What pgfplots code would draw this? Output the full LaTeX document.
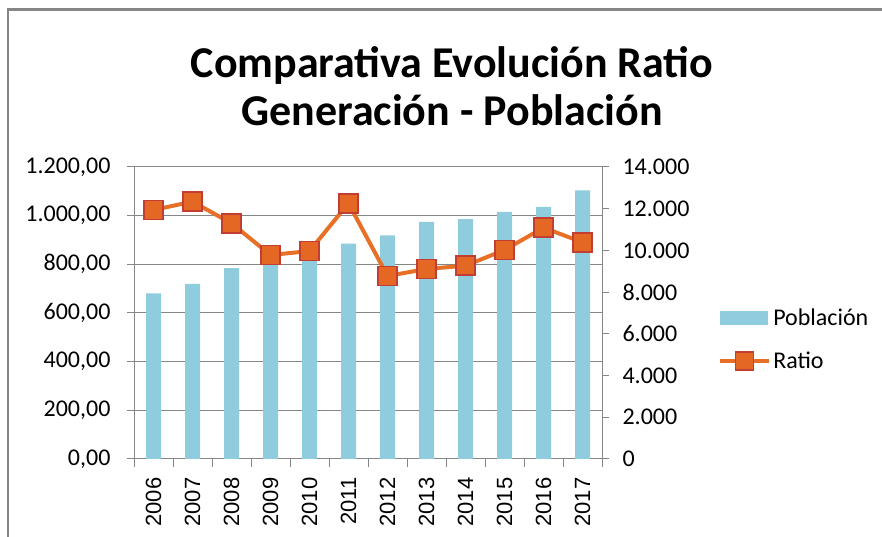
\documentclass[border=0pt]{standalone}
\usepackage{fontspec}
\setmainfont{Carlito}
\newfontfamily\arialf{Liberation Sans}
\usepackage{pgfplots}
\pgfplotsset{compat=1.18}
\definecolor{barc}{RGB}{143,204,221}
\definecolor{linec}{RGB}{232,112,38}
\definecolor{markf}{RGB}{228,104,36}
\definecolor{markd}{RGB}{194,62,52}
\definecolor{axc}{RGB}{134,134,134}

\begin{document}
\begin{tikzpicture}[x=1pt,y=1pt]
\path[use as bounding box] (0,0) rectangle (882,537);
\draw[axc, line width=2.2pt] (8,-2) -- (8,527.5) -- (884,527.5);
\node[font=\fontsize{44}{52}\selectfont\bfseries, anchor=base] at (452,459) {Comparativa Evolución Ratio};
\node[font=\fontsize{44}{52}\selectfont\bfseries, anchor=base] at (452,411) {Generación - Población};

% Poblacion (left axis)
\begin{axis}[
  at={(134pt,78pt)}, anchor=south west,
  scale only axis, width=468pt, height=292pt,
  xmin=-0.5, xmax=11.5, ymin=0, ymax=1200,
  axis x line*=bottom, axis y line*=left,
  axis line style={axc, line width=1pt, -},
  ytick={0,200,...,1200},
  ymajorgrids, grid style={axc, line width=1pt},
  xtick={0,...,11},
  xticklabels={2006,2007,2008,2009,2010,2011,2012,2013,2014,2015,2016,2017},
  major x tick style={draw=none},
  minor xtick={-0.5,0.5,...,11.5},
  minor tick length=8pt,
  tick align=outside, major tick length=7pt,
  tick style={axc, line width=1pt},
  xticklabel style={rotate=90, anchor=east, font=\arialf\fontsize{22}{22}\selectfont},
  xticklabel shift=8pt,
  yticklabel style={font=\fontsize{24}{24}\selectfont},
  yticklabel shift=13pt,
  /pgf/number format/assume math mode=true,
  y tick label style={/pgf/number format/.cd, fixed, fixed zerofill, precision=2, use comma, 1000 sep={.}},
  scaled y ticks=false,
]
\addplot[ybar, bar width=15pt, fill=barc, draw=none] coordinates {
  (0,681)(1,720)(2,784)(3,815)(4,845)(5,885)
  (6,919)(7,974)(8,986)(9,1016)(10,1036)(11,1104)};
\end{axis}

% Ratio (right axis)
\begin{axis}[
  at={(134pt,78pt)}, anchor=south west,
  scale only axis, width=468pt, height=292pt,
  xmin=-0.5, xmax=11.5, ymin=0, ymax=14000,
  axis y line*=right, axis x line=none,
  axis line style={axc, line width=1pt, -},
  ytick={0,2000,...,14000},
  tick align=outside, major tick length=7pt,
  tick style={axc, line width=1pt},
  yticklabel style={font=\fontsize{24}{24}\selectfont},
  yticklabel shift=10pt,
  /pgf/number format/assume math mode=true,
  y tick label style={/pgf/number format/.cd, fixed, precision=0, use comma, 1000 sep={.}},
  scaled y ticks=false,
  legend style={at={(1.248,0.41)}, anchor=west, draw=none, fill=none,
    font=\fontsize{24}{24}\selectfont, row sep=21pt, inner xsep=0pt},
  legend cell align=left,
]
\addlegendimage{legend image code/.code={\fill[barc] (0pt,-6.5pt) rectangle (47pt,6.5pt);}}
\addlegendentry{Población}
\addplot[linec, line width=4pt, mark=square*, mark size=9.5pt,
  mark options={fill=markf, draw=markd, line width=1.5pt},
  legend image code/.code={\draw[linec, line width=4pt] (0pt,0pt) -- (49pt,0pt);
    \draw[fill=markf, draw=markd, line width=1.5pt] (15pt,-9pt) rectangle (33pt,9pt);}]
  coordinates {
  (0,11940)(1,12340)(2,11300)(3,9780)(4,9970)(5,12260)
  (6,8775)(7,9110)(8,9270)(9,10020)(10,11090)(11,10390)};
\addlegendentry{Ratio}
\end{axis}
\end{tikzpicture}
\end{document}
